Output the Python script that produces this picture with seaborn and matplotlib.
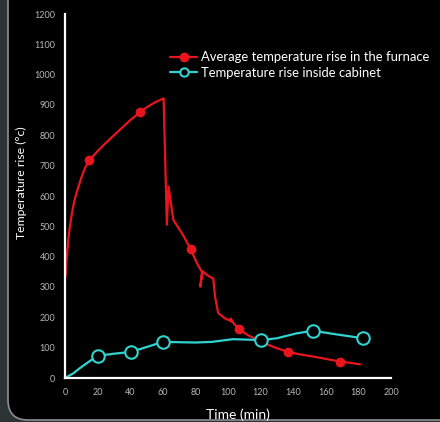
import numpy as np
import matplotlib
matplotlib.use("Agg")
import matplotlib.pyplot as plt
from matplotlib.lines import Line2D
from matplotlib.patches import FancyBboxPatch
import pandas as pd
import seaborn as sns

# furnace curve, path is not monotonic in time
furnace_t = [0.3, 1, 2, 3, 4, 5, 6, 7.2, 8.5, 10, 12.3, 15, 20, 25, 30, 35, 40, 46, 50, 55, 60.5,
             62.5, 63.5, 66.5, 72, 77, 81, 84, 83, 84.5, 87, 91, 92, 94, 98,
             102.5, 101.5, 103.5, 107, 112, 120, 130, 137, 145, 153, 160, 169, 175, 181]
furnace_y = [334, 390, 455, 499, 535, 565, 590, 612, 635, 660, 693, 718, 748, 775, 800, 825, 850, 876, 892, 908, 922,
             505, 631, 521, 475, 426, 378, 350, 301, 352, 340, 327, 270, 214, 197,
             186, 196, 180, 160, 142, 120, 98, 86, 77, 70, 63, 54, 50, 45]
furnace_mark_t = [15, 46, 77, 107, 137, 169]
furnace_mark_y = [718, 876, 426, 160, 86, 54]

cabinet_t = [0, 5, 9, 15, 20, 30, 40.5, 50, 60, 70, 80, 90, 103, 120, 130, 142, 152, 165, 183]
cabinet_y = [0, 15, 32, 55, 73, 80, 86, 102, 119, 118, 117, 119, 128, 125, 131, 147, 156, 145, 131]
cabinet_mark_t = [20, 40.5, 60, 120, 152, 183]
cabinet_mark_y = [73, 86, 119, 125, 156, 131]

RED = "#e8151d"
CYAN = "#2fd4d0"

sns.set_style("dark")
plt.rcParams['font.family'] = ['Lato', 'DejaVu Sans']

fig = plt.figure(figsize=(4.4, 4.22), dpi=100, facecolor="#2d3334")
# rounded black panel behind the chart
bg = fig.add_axes([0, 0, 1, 1], zorder=-10)
bg.set_axis_off()
bg.set_xlim(0, 440)
bg.set_ylim(422, 0)
bg.add_patch(FancyBboxPatch((8, -30), 470, 450, boxstyle="round,pad=0,rounding_size=20",
                            facecolor="black", edgecolor="#8a8f90", linewidth=1.2))

ax = fig.add_axes([65 / 440, 1 - 378 / 422, 326 / 440, 364 / 422])
ax.set_facecolor("black")
ax.patch.set_alpha(0)

fur = pd.DataFrame({"t": furnace_t, "y": furnace_y})
cab = pd.DataFrame({"t": cabinet_t, "y": cabinet_y})
sns.lineplot(data=fur, x="t", y="y", sort=False, estimator=None, color=RED, linewidth=1.6, ax=ax)
sns.lineplot(data=cab, x="t", y="y", sort=False, estimator=None, color=CYAN, linewidth=1.6, ax=ax)
ax.plot(furnace_mark_t, furnace_mark_y, "o", color=RED, markersize=6, zorder=5)
ax.plot(cabinet_mark_t, cabinet_mark_y, "o", markerfacecolor="black", markeredgecolor=CYAN,
        markeredgewidth=1.5, markersize=9, zorder=5)

ax.set_xlim(0, 200)
ax.set_ylim(0, 1200)
ax.set_xticks(range(0, 201, 20))
ax.set_yticks(range(0, 1201, 100))
ax.grid(False)
for s in ["top", "right"]:
    ax.spines[s].set_visible(False)
for s in ["left", "bottom"]:
    ax.spines[s].set_color("white")
    ax.spines[s].set_linewidth(1.6)
ax.tick_params(axis="both", direction="out", length=4, width=1.4, color="white",
               labelcolor="#b8b8b8", labelsize=6.5, pad=3)

ax.set_xlabel("Time (min)", color="white", fontsize=10)
ax.xaxis.set_label_coords(0.53, -0.085)
ax.set_ylabel("Temperature rise (°c)", color="white", fontsize=8.8)
ax.yaxis.set_label_coords(-0.117, 0.537)

handles = [
    Line2D([], [], color=RED, marker="o", markersize=6, linewidth=1.6),
    Line2D([], [], color=CYAN, marker="o", markerfacecolor="black", markeredgecolor=CYAN,
           markeredgewidth=1.5, markersize=6, linewidth=1.6),
]
leg = ax.legend(handles, ["Average temperature rise in the furnace", "Temperature rise inside cabinet"],
                loc="upper left", bbox_to_anchor=(0.322, 0.898), frameon=False, fontsize=9.4,
                handlelength=2.1, handletextpad=0.3, labelspacing=0.3, borderaxespad=0,
                borderpad=0)
for t in leg.get_texts():
    t.set_color("white")

fig.savefig("out.png", dpi=100, facecolor=fig.get_facecolor())
